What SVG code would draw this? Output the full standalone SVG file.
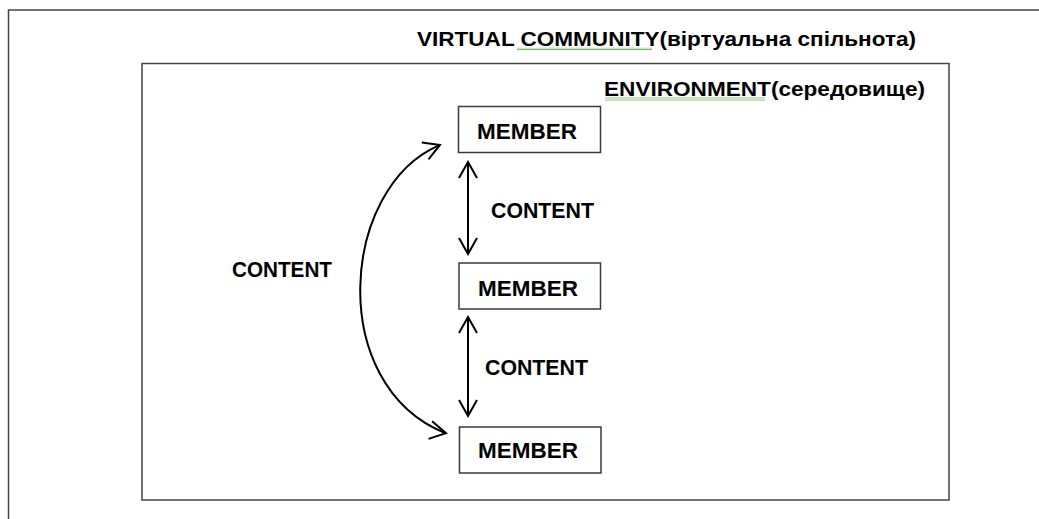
<svg xmlns="http://www.w3.org/2000/svg" width="1039" height="519" viewBox="0 0 1039 519">
  <style>
    .frame { fill: none; stroke: #444; stroke-width: 1.5; }
    .box { fill: #fff; stroke: #3a3a3a; stroke-width: 1.5; }
    .t { font-family: "Liberation Sans", Arial, sans-serif; font-weight: bold; fill: #000; }
    .title { font-size: 21px; }
    .lbl { font-size: 22.5px; }
    .conn { fill: none; stroke: #000; stroke-width: 2; }
    .spell { fill: url(#wave); }
  </style>
  <defs>
    <marker id="head" viewBox="-18 -11 20 22" markerWidth="20" markerHeight="22" refX="0" refY="0" orient="auto-start-reverse" markerUnits="userSpaceOnUse">
      <path d="M-16,-9 L0,0 L-16,9" fill="none" stroke="#000" stroke-width="2"/>
    </marker>
    <pattern id="wave" width="4" height="3" patternUnits="userSpaceOnUse">
      <path d="M0,2.5 L1,0.5 L2,2.5 L3,0.5 L4,2.5" fill="none" stroke="#6aaa5a" stroke-width="0.8"/>
    </pattern>
  </defs>

  <g id="virtual-community">
    <path class="frame" d="M8.5,1040 L8.5,10 L1045,10"/>
    <text class="t title" x="417" y="46" textLength="499" lengthAdjust="spacingAndGlyphs">VIRTUAL COMMUNITY(віртуальна спільнота)</text>
    <rect class="spell" x="517" y="47.5" width="135" height="3"/>
  </g>

  <g id="environment">
    <rect class="frame" x="142" y="63.5" width="807" height="436.5"/>
    <text class="t title" x="604" y="96" textLength="321" lengthAdjust="spacingAndGlyphs">ENVIRONMENT(середовище)</text>
    <rect class="spell" x="605" y="97.5" width="160" height="3"/>
  </g>

  <g id="member-1">
    <rect class="box" x="458.5" y="106.5" width="142" height="46"/>
    <text class="t lbl" x="477" y="139" textLength="100" lengthAdjust="spacingAndGlyphs">MEMBER</text>
  </g>
  <g id="member-2">
    <rect class="box" x="459" y="263" width="141.5" height="46"/>
    <text class="t lbl" x="478" y="296" textLength="100" lengthAdjust="spacingAndGlyphs">MEMBER</text>
  </g>
  <g id="member-3">
    <rect class="box" x="459.5" y="427" width="141.5" height="46"/>
    <text class="t lbl" x="478" y="458" textLength="100" lengthAdjust="spacingAndGlyphs">MEMBER</text>
  </g>

  <g id="connectors">
    <line class="conn" x1="468" y1="162" x2="468" y2="254" marker-start="url(#head)" marker-end="url(#head)"/>
    <text class="t lbl" x="491" y="218" textLength="103" lengthAdjust="spacingAndGlyphs">CONTENT</text>
    <line class="conn" x1="468" y1="317" x2="468" y2="416" marker-start="url(#head)" marker-end="url(#head)"/>
    <text class="t lbl" x="485" y="375" textLength="103" lengthAdjust="spacingAndGlyphs">CONTENT</text>
    <path class="conn" d="M440,145 L439,145.4 C340,188 326,385 445,433 L446,433.2" marker-start="url(#head)" marker-end="url(#head)"/>
    <text class="t lbl" x="232" y="277" textLength="100" lengthAdjust="spacingAndGlyphs">CONTENT</text>
  </g>
</svg>
